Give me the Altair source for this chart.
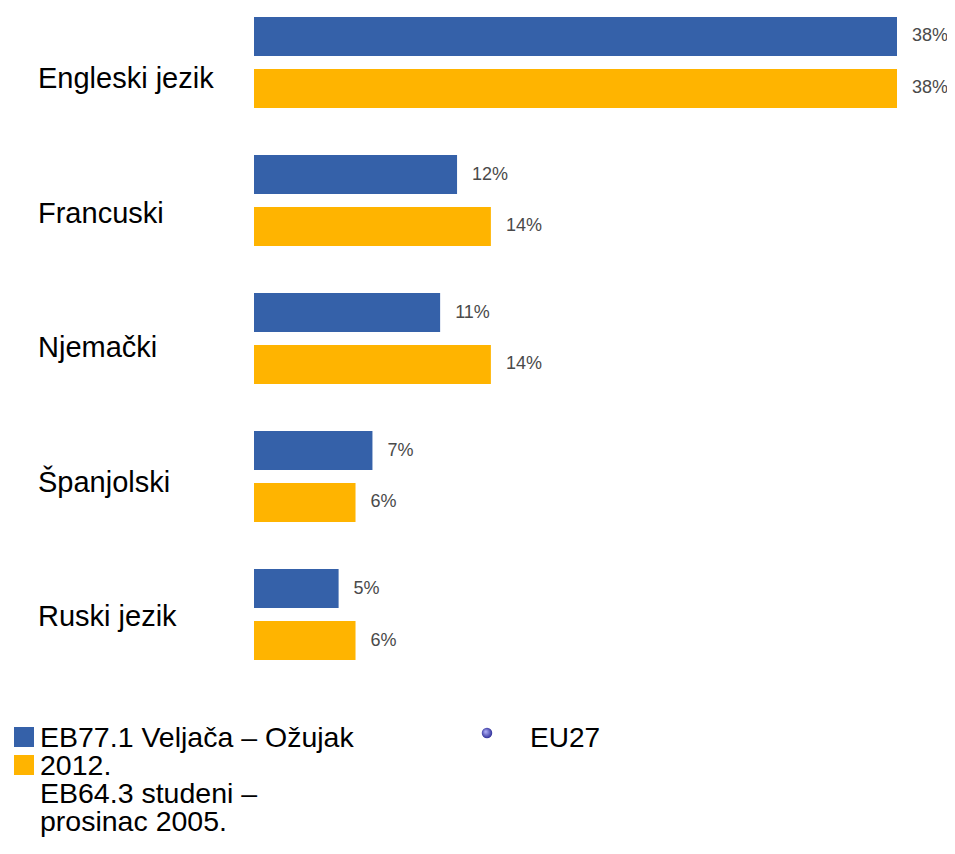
import altair as alt
import pandas as pd

categories = ["Engleski jezik", "Francuski", "Njemački", "Španjolski", "Ruski jezik"]
series = ["EB77.1 Veljača – Ožujak 2012.", "EB64.3 studeni – prosinac 2005."]
values_2012 = [38, 12, 11, 7, 5]
values_2005 = [38, 14, 14, 6, 6]
colors = ["#3561A9", "#FFB400"]
legend_lines = ["EB77.1 Veljača – Ožujak", "2012.", "EB64.3 studeni –", "prosinac 2005."]
extra_legend = "EU27"

rows = []
for c, a, b in zip(categories, values_2012, values_2005):
    rows.append({"category": c, "series": series[0], "value": a, "label": f"{a}%"})
    rows.append({"category": c, "series": series[1], "value": b, "label": f"{b}%"})
df = pd.DataFrame(rows)
df_cat = pd.DataFrame({"category": categories})

FONT = "Liberation Sans"

base = alt.Chart(df).encode(
    y=alt.Y(
        "category:N",
        sort=categories,
        scale=alt.Scale(paddingInner=0.3406, paddingOuter=0),
        axis=None,
    ),
    yOffset=alt.YOffset("series:N", sort=series,
                        scale=alt.Scale(paddingInner=0.25, paddingOuter=0)),
    x=alt.X("value:Q", scale=alt.Scale(domain=[0, 38], nice=False, zero=True), axis=None),
)

bars = base.mark_bar().encode(
    color=alt.Color("series:N", sort=series,
                    scale=alt.Scale(domain=series, range=colors), legend=None)
)

labels = base.mark_text(align="left", baseline="middle", dx=15,
                        font=FONT, fontSize=18, color="#4a4a4a").encode(
    text="label:N"
)

data_layers = alt.layer(bars, labels)

cat_labels = alt.Chart(df_cat).mark_text(
    align="left", baseline="middle", font=FONT, fontSize=29, color="#000000"
).encode(
    x=alt.value(-216),
    y=alt.Y("category:N", sort=categories,
            scale=alt.Scale(type="point", range=[62, 600], padding=0), axis=None),
    text="category:N",
)

one = pd.DataFrame({"k": [0]})

sq1 = alt.Chart(one).mark_square(size=400, opacity=1).encode(
    x=alt.value(-230), y=alt.value(720), color=alt.value(colors[0]))
sq2 = alt.Chart(one).mark_square(size=400, opacity=1).encode(
    x=alt.value(-230), y=alt.value(748), color=alt.value(colors[1]))

legend_text = alt.Chart(pd.DataFrame({"t": ["\n".join(legend_lines)]})).mark_text(
    align="left", baseline="alphabetic", lineBreak="\n", lineHeight=28,
    font=FONT, fontSize=28.5, color="#000000"
).encode(x=alt.value(-214), y=alt.value(730), text="t:N")

dot = alt.Chart(one).mark_circle(
    size=110, opacity=1,
    fill=alt.RadialGradient(
        gradient="radial", x1=0.35, y1=0.35, r1=0, x2=0.5, y2=0.5, r2=0.6,
        stops=[alt.GradientStop(offset=0, color="#b9b9ff"),
               alt.GradientStop(offset=1, color="#1e1e8c")]),
).encode(x=alt.value(233), y=alt.value(716))

eu_text = alt.Chart(pd.DataFrame({"t": [extra_legend]})).mark_text(
    align="left", baseline="alphabetic", font=FONT, fontSize=28, color="#000000"
).encode(x=alt.value(276), y=alt.value(730), text="t:N")

chart = alt.layer(data_layers, cat_labels, sq1, sq2, legend_text, dot, eu_text).resolve_scale(
    y="independent"
).properties(
    width=643, height=643,
    padding={"left": 246, "top": 9, "right": 50, "bottom": 190},
    autosize="none",
    background="white",
).configure_view(stroke=None)

chart.save("out.html", embed_options={"renderer": "svg", "actions": False})
